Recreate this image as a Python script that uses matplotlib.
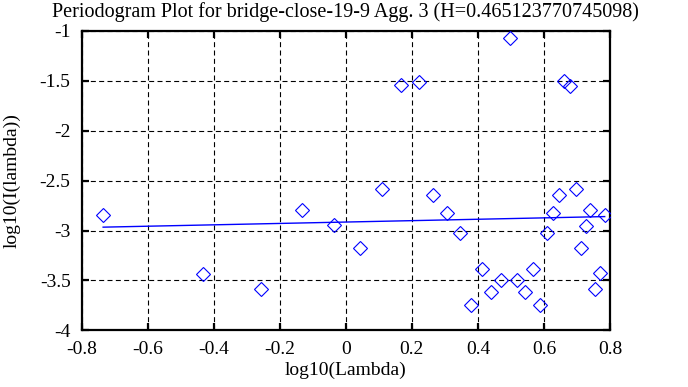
import matplotlib
matplotlib.use("Agg")
import matplotlib.pyplot as plt
import numpy as np

# periodogram points (log10 lambda, log10 I(lambda))
log_lambda = [-0.735, -0.432, -0.257, -0.132, -0.036, 0.043, 0.110, 0.168,
              0.221, 0.265, 0.307, 0.345, 0.378, 0.411, 0.441, 0.469,
              0.496, 0.519, 0.544, 0.566, 0.587, 0.608, 0.627, 0.645,
              0.660, 0.680, 0.696, 0.713, 0.728, 0.741, 0.756, 0.769, 0.784]
log_power = [-2.844, -3.438, -3.582, -2.794, -2.944, -3.178, -2.586, -1.541,
             -1.508, -2.643, -2.827, -3.021, -3.746, -3.385, -3.612, -3.495,
             -1.073, -3.495, -3.612, -3.385, -3.746, -3.021, -2.820, -2.643,
             -1.501, -1.548, -2.586, -3.178, -2.951, -2.794, -3.582, -3.428, -2.844]

H = 0.465123770745098
slope = 1 - 2 * H
intercept = -2.915

plt.rcParams["font.family"] = ["Liberation Serif", "DejaVu Serif"]

fig = plt.figure(figsize=(6.88, 3.87), dpi=100)
ax = fig.add_axes([0.1187, 0.1465, 0.7679, 0.7735])

ax.plot(log_lambda, log_power, linestyle="none", marker="D", ms=7.5,
        mfc="none", mec="blue", mew=0.8, zorder=3)

fx = np.array([min(log_lambda), max(log_lambda)])
ax.plot(fx, intercept + slope * fx, color="blue", lw=1, zorder=3)

ax.set_xlim(-0.8, 0.8)
ax.set_ylim(-4, -1)
ax.set_xticks(np.arange(-0.8, 0.81, 0.2))
ax.set_yticks(np.arange(-4, -0.99, 0.5))
ax.set_xticklabels(["-0.8", "-0.6", "-0.4", "-0.2", "0", "0.2", "0.4", "0.6", "0.8"])
ax.set_yticklabels(["-4", "-3.5", "-3", "-2.5", "-2", "-1.5", "-1"])

ax.grid(True, color="black", linestyle=(0, (4.5, 3)), linewidth=0.8)
for s in ax.spines.values():
    s.set_linewidth(1.6)
ax.tick_params(direction="in", length=5, width=1.6, top=True, right=True,
               labelsize=14, pad=8)
ax.tick_params(axis="x", pad=8)

ax.set_title("Periodogram Plot for bridge-close-19-9 Agg. 3 (H=%s)" % H,
             fontsize=14.5, pad=10)
ax.set_xlabel("log10(Lambda)", fontsize=14, labelpad=2)
ax.set_ylabel("log10(I(lambda))", fontsize=14, labelpad=14)

plt.savefig("out.png", dpi=100)
plt.close("all")
